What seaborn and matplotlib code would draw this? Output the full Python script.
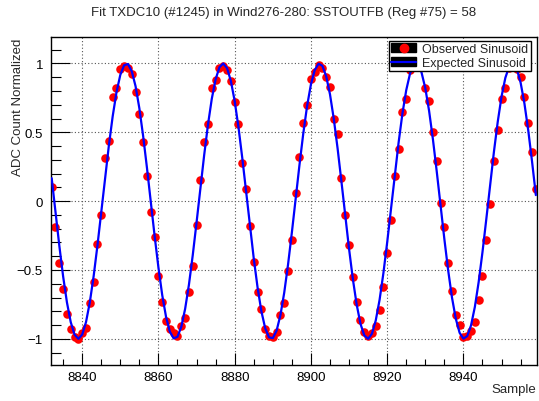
import numpy as np
import pandas as pd
import matplotlib
matplotlib.use("Agg")
import matplotlib.pyplot as plt
import seaborn as sns
from matplotlib.patches import Rectangle
from matplotlib.lines import Line2D
from matplotlib.legend_handler import HandlerTuple
from matplotlib.ticker import MultipleLocator

# sample numbers 8832 .. 8959
samples = list(range(8832, 8960))

observed = [
    0.10, -0.19, -0.45, -0.64, -0.82, -0.93, -0.99, -1.00, -0.96, -0.92,
    -0.74, -0.59, -0.31, -0.10, 0.31, 0.44, 0.76, 0.82, 0.96, 0.98,
    0.97, 0.92, 0.79, 0.63, 0.43, 0.18, -0.08, -0.26, -0.54, -0.73,
    -0.87, -0.93, -0.96, -0.98, -0.91, -0.85, -0.66, -0.47, -0.17, 0.15,
    0.43, 0.56, 0.82, 0.88, 0.97, 0.98, 0.95, 0.87, 0.72, 0.56,
    0.28, 0.09, -0.18, -0.44, -0.66, -0.78, -0.93, -0.98, -0.99, -0.95,
    -0.83, -0.74, -0.51, -0.28, 0.06, 0.32, 0.57, 0.70, 0.89, 0.94,
    0.99, 0.97, 0.90, 0.83, 0.60, 0.49, 0.17, -0.10, -0.32, -0.55,
    -0.73, -0.86, -0.95, -0.98, -0.96, -0.91, -0.79, -0.62, -0.38, -0.14,
    0.18, 0.38, 0.65, 0.74, 0.95, 0.99, 0.98, 0.98, 0.82, 0.73,
    0.50, 0.29, -0.01, -0.19, -0.45, -0.65, -0.83, -0.90, -0.99, -0.98,
    -0.94, -0.88, -0.72, -0.54, -0.28, -0.02, 0.29, 0.52, 0.74, 0.82,
    0.97, 0.99, 0.96, 0.90, 0.76, 0.57, 0.36, 0.09,
]

expected = [
    0.167, -0.081, -0.323, -0.546, -0.735, -0.879, -0.969, -1.000, -0.969, -0.879,
    -0.735, -0.546, -0.323, -0.081, 0.167, 0.404, 0.616, 0.791, 0.917, 0.987,
    0.996, 0.944, 0.835, 0.674, 0.471, 0.240, -0.006, -0.252, -0.482, -0.683,
    -0.841, -0.948, -0.997, -0.985, -0.912, -0.783, -0.607, -0.393, -0.155, 0.093,
    0.335, 0.556, 0.744, 0.885, 0.972, 1.000, 0.966, 0.873, 0.727, 0.536,
    0.312, 0.068, -0.179, -0.415, -0.626, -0.799, -0.922, -0.989, -0.995, -0.940,
    -0.828, -0.664, -0.460, -0.228, 0.018, 0.264, 0.493, 0.692, 0.848, 0.952,
    0.998, 0.983, 0.907, 0.776, 0.597, 0.382, 0.143, -0.105, -0.346, -0.566,
    -0.751, -0.891, -0.975, -1.000, -0.963, -0.867, -0.718, -0.525, -0.300, -0.056,
    0.191, 0.426, 0.636, 0.806, 0.927, 0.991, 0.994, 0.936, 0.821, 0.655,
    0.449, 0.216, -0.031, -0.275, -0.503, -0.700, -0.854, -0.956, -0.999, -0.980,
    -0.902, -0.768, -0.587, -0.370, -0.131, 0.117, 0.358, 0.576, 0.760, 0.896,
    0.978, 0.999, 0.960, 0.861, 0.710, 0.515, 0.288, 0.044,
]

title = "Fit TXDC10 (#1245) in Wind276-280: SSTOUTFB (Reg #75) = 58"

df = pd.DataFrame({"sample": samples, "observed": observed, "expected": expected})

sns.set_theme(style="ticks")
plt.rcParams["font.family"] = ["Liberation Sans", "DejaVu Sans"]

W, H = 539, 402
fig = plt.figure(figsize=(W / 100, H / 100), dpi=100)
left, right, top, bottom = 51.3, 537, 38.3, 366
ax = fig.add_axes([left / W, 1 - bottom / H, (right - left) / W, (bottom - top) / H])

sns.scatterplot(data=df, x="sample", y="observed", color="#ff0000", s=38,
                linewidth=0, ax=ax, zorder=2, legend=False)
sns.lineplot(data=df, x="sample", y="expected", color="#0000ff", lw=1.6,
             ax=ax, zorder=3, legend=False)

ax.set_xlim(8831.9, 8959.3)
ax.set_ylim(-1.19, 1.19)
ax.xaxis.set_major_locator(MultipleLocator(20))
ax.xaxis.set_minor_locator(MultipleLocator(5))
ax.yaxis.set_major_locator(MultipleLocator(0.5))
ax.yaxis.set_minor_locator(MultipleLocator(0.1))
ax.set_yticks([-1, -0.5, 0, 0.5, 1])
ax.set_yticklabels(["\u22121", "\u22120.5", "0", "0.5", "1"])

ax.tick_params(axis="both", which="both", direction="in", colors="black",
               labelsize=9.5, width=0.8, top=False, right=False)
ax.tick_params(axis="x", which="major", length=9, pad=4)
ax.tick_params(axis="x", which="minor", length=4.5)
ax.tick_params(axis="y", which="major", length=14, pad=6)
ax.tick_params(axis="y", which="minor", length=7)

ax.grid(True, which="major", color="#555555", linestyle=(0, (1, 2)), lw=0.8)
for sp in ax.spines.values():
    sp.set_visible(True)
    sp.set_color("black")
    sp.set_linewidth(1.0)

ax.set_xlabel("")
ax.set_ylabel("")
fig.text(284 / W, 1 - 13 / H, title, ha="center", va="center", fontsize=9.5)
fig.text(18 / W, 1 - 39 / H, "ADC Count Normalized", rotation=90,
         ha="center", va="top", fontsize=9.5)
fig.text(536 / W, 1 - 390 / H, "Sample", ha="right", va="center", fontsize=9.5)

h_obs = (Rectangle((0, 0), 1, 1, facecolor="black", edgecolor="black"),
         Line2D([], [], marker="o", color="#ff0000", ls="none", markersize=6))
h_exp = (Rectangle((0, 0), 1, 1, facecolor="black", edgecolor="black"),
         Line2D([], [], color="#0000ff", lw=1.6))
leg = ax.legend([h_obs, h_exp], ["Observed Sinusoid", "Expected Sinusoid"],
                handler_map={tuple: HandlerTuple(ndivide=1)},
                loc="upper right", bbox_to_anchor=(531 / W, 1 - 41.5 / H),
                bbox_transform=fig.transFigure, borderaxespad=0,
                fontsize=9, frameon=True, fancybox=False, framealpha=1,
                edgecolor="black", handlelength=2.0, handleheight=0.7,
                labelspacing=0.15, borderpad=0.2, handletextpad=0.5)
leg.get_frame().set_linewidth(1.0)
leg.set_zorder(5)

fig.savefig("out.png", dpi=100)
